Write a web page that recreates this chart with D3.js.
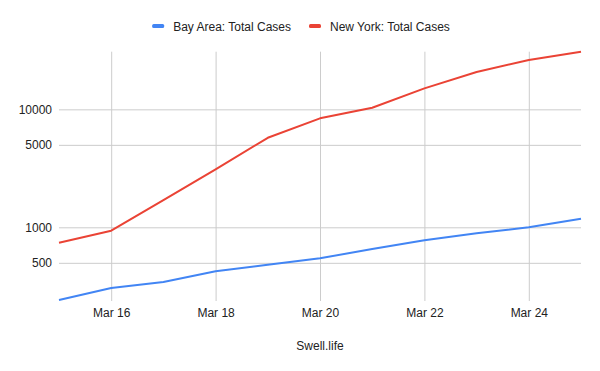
<!DOCTYPE html>
<html>
<head>
<meta charset="utf-8">
<script src="https://cdn.jsdelivr.net/npm/d3@7"></script>
<style>
  body { margin: 0; background: #fff; }
  text { font-family: Arial, "Liberation Sans", sans-serif; }
</style>
</head>
<body>
<script>
// data
var days = ["2020-03-15","2020-03-16","2020-03-17","2020-03-18","2020-03-19","2020-03-20",
            "2020-03-21","2020-03-22","2020-03-23","2020-03-24","2020-03-25"]
var bayArea = [242, 306, 344, 424, 482, 546, 655, 776, 890, 1000, 1183]
var newYork = [741, 936, 1700, 3100, 5740, 8390, 10320, 15060, 20700, 26200, 30800]
var seriesNames = ["Bay Area: Total Cases", "New York: Total Cases"]
var seriesColors = ["#4285f4", "#ea4335"]
var yTicks = [500, 1000, 5000, 10000]
var xTicks = ["2020-03-16","2020-03-18","2020-03-20","2020-03-22","2020-03-24"]
var footer = "Swell.life"

var width = 600, height = 371
// plot box (don't call it "top", that's window.top)
var plotLeft = 59, plotRight = 581, plotTop = 51.7, plotBottom = 300

var parse = d3.timeParse("%Y-%m-%d")
var dates = days.map(parse)

var svg = d3.select("body").append("svg").attr("width", width).attr("height", height)

var x = d3.scaleTime().domain(d3.extent(dates)).range([plotLeft, plotRight])
var all = bayArea.concat(newYork)
var y = d3.scaleLog().domain([d3.min(all), d3.max(all)]).range([plotBottom, plotTop])

// y gridlines + labels
var yAxis = d3.axisLeft(y).tickValues(yTicks).tickSize(-(plotRight - plotLeft)).tickFormat(d3.format("d"))
var gy = svg.append("g").attr("transform", "translate(" + plotLeft + ",0)").call(yAxis)
gy.select(".domain").remove()
gy.selectAll("line").attr("stroke", "#cccccc")
gy.selectAll("text").attr("fill", "#222").style("font-size", "12px").attr("x", -7)

// x gridlines + labels
var xAxis = d3.axisBottom(x).tickValues(xTicks.map(parse)).tickSize(-(plotBottom - plotTop + 1))
  .tickFormat(d3.timeFormat("Mar %-d"))
var gx = svg.append("g").attr("transform", "translate(0," + (plotBottom + 1) + ")").call(xAxis)
gx.select(".domain").remove()
gx.selectAll("line").attr("stroke", "#cccccc")
gx.selectAll("text").attr("fill", "#222").style("font-size", "12px").attr("y", 7).attr("dy", "0.71em")

// lines
var line = d3.line().x(function(d, i) { return x(dates[i]) }).y(function(d) { return y(d) })
;[bayArea, newYork].forEach(function(s, k) {
  svg.append("path").datum(s)
    .attr("fill", "none")
    .attr("stroke", seriesColors[k])
    .attr("stroke-width", 2)
    .attr("stroke-linejoin", "round")
    .attr("d", line)
})

// legend
var lg = svg.append("g")
var lx = 0
seriesNames.forEach(function(name, k) {
  var item = lg.append("g").attr("transform", "translate(" + lx + ",0)")
  item.append("rect").attr("x", 0).attr("y", 24).attr("width", 12).attr("height", 4).attr("rx", 1.5)
    .attr("fill", seriesColors[k])
  var t = item.append("text").attr("x", 21).attr("y", 31).attr("fill", "#222").style("font-size", "12px").text(name)
  lx += 21 + t.node().getComputedTextLength() + 18
})
var lw = lx - 18
lg.attr("transform", "translate(" + (301 - lw / 2) + ",0)")

// footer
svg.append("text").attr("x", (plotLeft + plotRight) / 2).attr("y", 350).attr("text-anchor", "middle")
  .attr("fill", "#222").style("font-size", "12px").text(footer)
</script>
</body>
</html>
